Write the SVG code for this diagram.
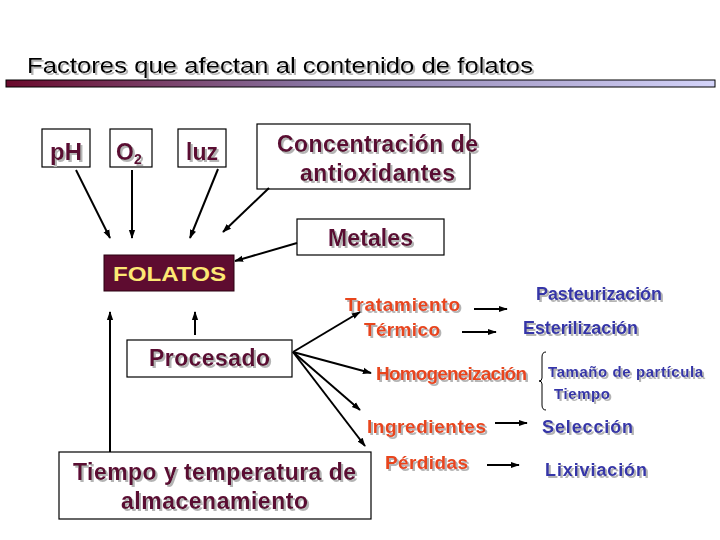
<svg xmlns="http://www.w3.org/2000/svg" width="720" height="540" viewBox="0 0 720 540">
<defs>
<linearGradient id="bar" x1="0" y1="0" x2="1" y2="0">
<stop offset="0" stop-color="#6a0a2c"/>
<stop offset="0.45" stop-color="#8a7aa8"/>
<stop offset="1" stop-color="#d4d4fa"/>
</linearGradient>
<filter id="sh" x="-5%" y="-20%" width="110%" height="140%">
<feOffset in="SourceAlpha" dx="1.5" dy="1.5" result="o"/>
<feFlood flood-color="#b4b4b4"/>
<feComposite in2="o" operator="in" result="s"/>
<feMerge><feMergeNode in="s"/><feMergeNode in="SourceGraphic"/></feMerge>
</filter>
<marker id="ah" viewBox="0 0 10 10" refX="9" refY="5" markerWidth="9" markerHeight="9" markerUnits="userSpaceOnUse" orient="auto">
<path d="M0,1.5 L10,5 L0,8.5 Z" fill="#000"/>
</marker>
</defs>
<style>
text{font-family:"Liberation Sans",Arial,sans-serif;}
.box{fill:#fff;stroke:#000;stroke-width:1.2;}
.m{fill:#5a0a32;font-weight:bold;font-size:23px;filter:url(#sh);}
.o{fill:#e8441c;font-weight:bold;font-size:19px;filter:url(#sh);}
.b{fill:#3636a8;font-weight:bold;font-size:18px;filter:url(#sh);}
.bs{fill:#3636a8;font-weight:bold;font-size:15px;filter:url(#sh);}
.c line{stroke:#000;stroke-width:2;marker-end:url(#ah);}
</style>
<g id="title">
<text x="27" y="73" font-size="22" fill="#000" textLength="506" lengthAdjust="spacingAndGlyphs" filter="url(#sh)">Factores que afectan al contenido de folatos</text>
<rect x="6" y="80" width="709" height="7" fill="url(#bar)" stroke="#000" stroke-width="1"/>
</g>
<g id="ph"><rect class="box" x="42" y="129" width="48" height="38"/><text class="m" x="50" y="160" textLength="32" lengthAdjust="spacingAndGlyphs">pH</text></g>
<g id="o2"><rect class="box" x="110" y="129" width="42" height="38"/><text class="m" x="116" y="160">O<tspan font-size="14" dy="4">2</tspan></text></g>
<g id="luz"><rect class="box" x="178" y="129" width="48" height="38"/><text class="m" x="186" y="160" textLength="32" lengthAdjust="spacingAndGlyphs">luz</text></g>
<g id="antiox"><rect class="box" x="257" y="124" width="213" height="65"/>
<text class="m" x="277" y="152" textLength="201">Concentración de</text>
<text class="m" x="300" y="181" textLength="155">antioxidantes</text></g>
<g id="metales"><rect class="box" x="297" y="219" width="147" height="36"/><text class="m" x="328" y="246" textLength="85">Metales</text></g>
<g id="folatos"><rect x="104" y="255" width="130" height="36" fill="#5e0c30" stroke="#2a0010" stroke-width="1"/><text x="113" y="281" font-size="21" font-weight="bold" fill="#fde874" textLength="113" lengthAdjust="spacingAndGlyphs">FOLATOS</text></g>
<g id="procesado"><rect class="box" x="127" y="340" width="165" height="37"/><text class="m" x="149" y="366" textLength="121">Procesado</text></g>
<g id="tiempo"><rect class="box" x="59" y="452" width="312" height="67"/>
<text class="m" x="73" y="480" textLength="283">Tiempo y temperatura de</text>
<text class="m" x="121" y="509" textLength="187">almacenamiento</text></g>
<g id="tratamiento"><text class="o" x="345" y="311" textLength="115">Tratamiento</text><text class="o" x="364" y="336" textLength="76">Térmico</text></g>
<g id="pasteurizacion"><text class="b" x="536" y="300" textLength="126">Pasteurización</text></g>
<g id="esterilizacion"><text class="b" x="523" y="334" textLength="115">Esterilización</text></g>
<g id="homogeneizacion"><text class="o" x="376" y="380" textLength="151">Homogeneización</text></g>
<g id="homparams">
<path d="M546,352 Q542,352 542,357 L542,378 Q542,381 539,381 Q542,381 542,384 L542,405 Q542,410 546,410" fill="none" stroke="#000" stroke-width="1"/>
<text class="bs" x="548" y="377" textLength="155">Tamaño de partícula</text>
<text class="bs" x="554" y="399" textLength="56">Tiempo</text></g>
<g id="ingredientes"><text class="o" x="367" y="433" textLength="119">Ingredientes</text></g>
<g id="seleccion"><text class="b" x="542" y="433" textLength="91">Selección</text></g>
<g id="perdidas"><text class="o" x="385" y="469" textLength="83">Pérdidas</text></g>
<g id="lixiviacion"><text class="b" x="545" y="476" textLength="102">Lixiviación</text></g>
<g id="connectors" class="c">
<line x1="76" y1="170" x2="110" y2="238"/>
<line x1="132" y1="170" x2="132" y2="238"/>
<line x1="218" y1="169" x2="190" y2="238"/>
<line x1="269" y1="188" x2="223" y2="232"/>
<line x1="297" y1="243" x2="235" y2="261"/>
<line x1="195" y1="335" x2="195" y2="312"/>
<line x1="110" y1="452" x2="110" y2="312"/>
<line x1="293" y1="352" x2="360" y2="312"/>
<line x1="293" y1="352" x2="371" y2="373"/>
<line x1="293" y1="352" x2="360" y2="410"/>
<line x1="293" y1="352" x2="365" y2="446"/>
<line x1="474" y1="309" x2="507" y2="309"/>
<line x1="462" y1="332" x2="496" y2="332"/>
<line x1="495" y1="423" x2="527" y2="423"/>
<line x1="487" y1="465" x2="519" y2="465"/>
</g>
</svg>
